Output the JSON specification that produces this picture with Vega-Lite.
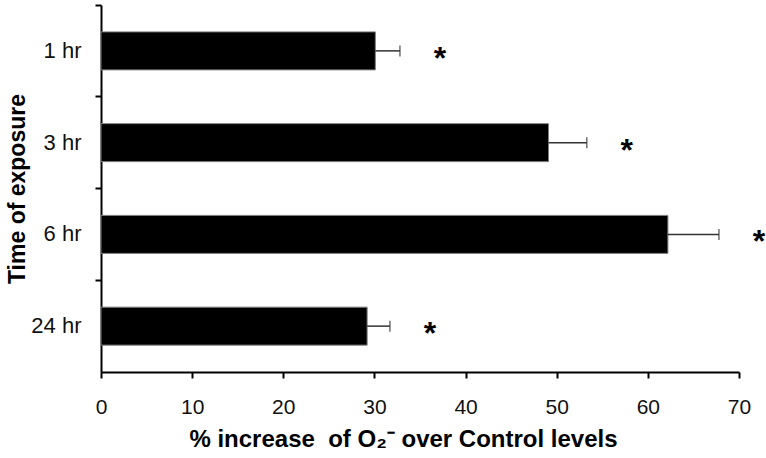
{
  "$schema": "https://vega.github.io/schema/vega-lite/v6.json",
  "width": 638,
  "height": 367,
  "autosize": {"type": "none"},
  "padding": {"left": 101, "top": 5, "right": 27, "bottom": 86},
  "config": {"font": "Liberation Sans", "view": {"stroke": null}},
  "data": {
    "values": [
      {"time": "1 hr", "mean": 30.1, "upper": 32.8, "sig": "*"},
      {"time": "3 hr", "mean": 49.1, "upper": 53.3, "sig": "*"},
      {"time": "6 hr", "mean": 62.2, "upper": 67.8, "sig": "*"},
      {"time": "24 hr", "mean": 29.2, "upper": 31.7, "sig": "*"}
    ]
  },
  "encoding": {
    "y": {
      "field": "time",
      "type": "nominal",
      "sort": null,
      "scale": {"paddingInner": 0, "paddingOuter": 0},
      "axis": {
        "title": "Time of exposure",
        "titleFontSize": 23,
        "titleFontWeight": "bold",
        "titleColor": "#000",
        "titlePadding": 1,
        "labelFontSize": 22,
        "labelFontWeight": "normal",
        "labelColor": "#111",
        "labelPadding": 14,
        "tickSize": 6,
        "tickWidth": 2,
        "tickColor": "#000",
        "domainColor": "#000",
        "domainWidth": 2,
        "bandPosition": 0
      }
    }
  },
  "layer": [
    {
      "mark": {"type": "bar", "fill": "#000", "stroke": "#808080", "strokeWidth": 1, "size": 38},
      "encoding": {
        "x": {
          "field": "mean",
          "type": "quantitative",
          "scale": {"domain": [0, 70], "nice": false},
          "axis": {
            "title": "% increase \u00a0of O₂⁻ over Control levels",
            "titleFontSize": 24,
            "titleFontWeight": "bold",
            "titleColor": "#000",
            "titlePadding": 10,
            "titleX": 302,
            "labelFontSize": 21,
            "labelColor": "#111",
            "labelPadding": 18,
            "labelFlush": false,
            "labelOverlap": false,
            "values": [0, 10, 20, 30, 40, 50, 60, 70],
            "grid": false,
            "tickSize": 6,
            "tickWidth": 2,
            "tickColor": "#000",
            "domainColor": "#000",
            "domainWidth": 2
          }
        }
      }
    },
    {
      "mark": {"type": "rule", "color": "#333", "strokeWidth": 1.5},
      "encoding": {
        "x": {"field": "mean", "type": "quantitative"},
        "x2": {"field": "upper"}
      }
    },
    {
      "mark": {"type": "tick", "orient": "vertical", "size": 11, "thickness": 1.5, "color": "#333"},
      "encoding": {"x": {"field": "upper", "type": "quantitative"}}
    },
    {
      "mark": {"type": "text", "fontSize": 32, "fontWeight": "bold", "dx": 40, "dy": 8, "baseline": "middle", "align": "center", "color": "#000"},
      "encoding": {
        "x": {"field": "upper", "type": "quantitative"},
        "text": {"field": "sig"}
      }
    }
  ]
}
